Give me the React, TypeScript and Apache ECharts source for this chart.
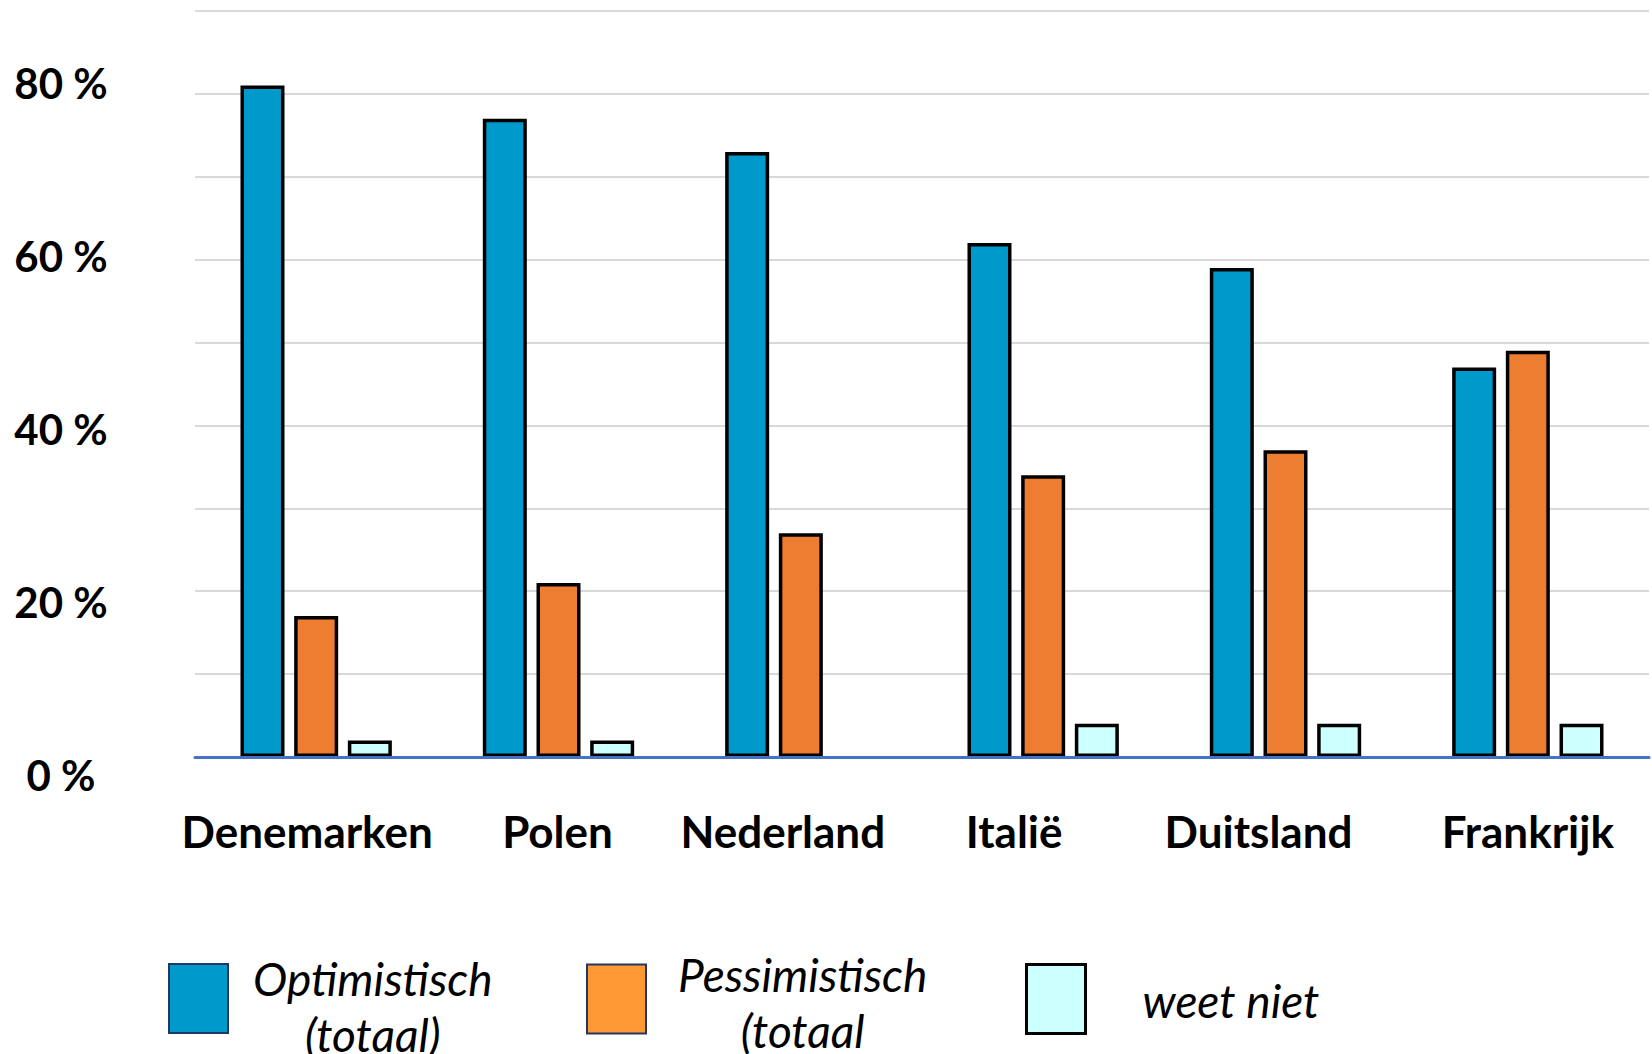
import React, { useEffect, useRef } from "react";
import * as echarts from "echarts";

const categories = ["Denemarken", "Polen", "Nederland", "Italië", "Duitsland", "Frankrijk"];
const optimistisch = [81, 77, 73, 62, 59, 47];
const pessimistisch = [17, 21, 27, 34, 37, 49];
const weetNiet = [2, 2, 0, 4, 4, 4];
const yTickValues = [0, 20, 40, 60, 80];
const yTickLabels = ["0 %", "20 %", "40 %", "60 %", "80 %"];
const seriesNames = ["Optimistisch\n(totaal)", "Pessimistisch\n(totaal", "weet niet"];

// label horizontal nudges (px) to mimic the reference placement
const LABEL_NUDGE = [-9, -1, -18, -29, -27, 0];
const FONT = "Lato";

export default function App() {
  const ref = useRef<HTMLDivElement>(null);
  useEffect(() => {
    if (!ref.current) return;
    const chart = echarts.init(ref.current, null, { renderer: "svg" });

    const rich: Record<string, any> = {};
    LABEL_NUDGE.forEach((d, i) => {
      rich["c" + i] = {
        fontFamily: FONT,
        fontWeight: "bold",
        fontSize: 44,
        color: "#000",
        padding: d < 0 ? [0, -2 * d, 0, 0] : [0, 0, 0, 2 * d],
      };
    });

    const legendRich = {
      t: { fontFamily: FONT, fontStyle: "italic", fontSize: 46, color: "#000", align: "center", lineHeight: 56 },
    };
    const legendFmt = (name: string) =>
      name
        .split("\n")
        .map((l) => "{t|" + l + "}")
        .join("\n");

    const mkLegend = (idx: number, left: number, top: number, padTop: number, padLeft: number, style: any) => ({
      show: true,
      left,
      top,
      padding: 0,
      orient: "horizontal",
      icon: "rect",
      itemWidth: 59,
      itemHeight: 69,
      selectedMode: false,
      data: [{ name: seriesNames[idx], itemStyle: style }],
      formatter: legendFmt,
      textStyle: { padding: [padTop, 0, 0, padLeft], rich: legendRich },
    });

    const barStyle = (color: string) => ({ color, borderColor: "#000", borderWidth: 3.5 });
    const barData = (arr: number[]) =>
      arr.map((v) => (v === 0 ? { value: v, itemStyle: { borderWidth: 0 } } : v));

    chart.setOption({
      animation: false,
      backgroundColor: "#fff",
      grid: [
        { left: 195, right: 3, top: 11, bottom: 297, containLabel: false },
        { left: 120, width: 10, top: 83, height: 692, containLabel: false },
      ],
      legend: [
        mkLegend(0, 168, 955, 15, 20, { color: "#0099CC", borderColor: "#203864", borderWidth: 2 }),
        mkLegend(1, 586, 951, 6, 27, { color: "#FF9933", borderColor: "#203864", borderWidth: 2 }),
        mkLegend(2, 1025, 963, 2, 52, { color: "#CCFFFF", borderColor: "#000", borderWidth: 3 }),
      ],
      xAxis: [
        {
          type: "category",
          gridIndex: 0,
          data: categories,
          z: 10,
          axisLine: { show: true, lineStyle: { color: "#4472C4", width: 3 } },
          axisTick: { show: false },
          axisLabel: {
            margin: 52,
            formatter: (v: string, i: number) => "{c" + i + "|" + v + "}",
            rich,
          },
        },
        { type: "value", gridIndex: 1, show: false, min: 0, max: 1 },
      ],
      yAxis: [
        {
          type: "value",
          gridIndex: 0,
          min: 0,
          max: 90,
          interval: 10,
          axisLabel: { show: false },
          axisLine: { show: false },
          axisTick: { show: false },
          splitLine: { show: true, lineStyle: { color: "#D9D9D9", width: 2 } },
        },
        {
          type: "value",
          gridIndex: 1,
          min: 0,
          max: 80,
          interval: 20,
          axisLine: { show: false },
          axisTick: { show: false },
          splitLine: { show: false },
          axisLabel: {
            margin: 59,
            align: "center",
            fontFamily: FONT,
            fontWeight: "bold",
            fontSize: 42,
            color: "#000",
            formatter: (v: number) => yTickLabels[yTickValues.indexOf(v)] ?? "",
          },
        },
      ],
      series: [
        { name: seriesNames[0], type: "bar", data: barData(optimistisch), barWidth: 44, barGap: "22%", itemStyle: barStyle("#0099CC") },
        { name: seriesNames[1], type: "bar", data: barData(pessimistisch), barWidth: 44, barGap: "22%", itemStyle: barStyle("#ED7D31") },
        { name: seriesNames[2], type: "bar", data: barData(weetNiet), barWidth: 44, barGap: "22%", itemStyle: barStyle("#CCFFFF") },
      ],
    });
    return () => chart.dispose();
  }, []);
  return <div ref={ref} style={{ position: "fixed", left: 0, top: 0, width: 1652, height: 1054 }} />;
}
